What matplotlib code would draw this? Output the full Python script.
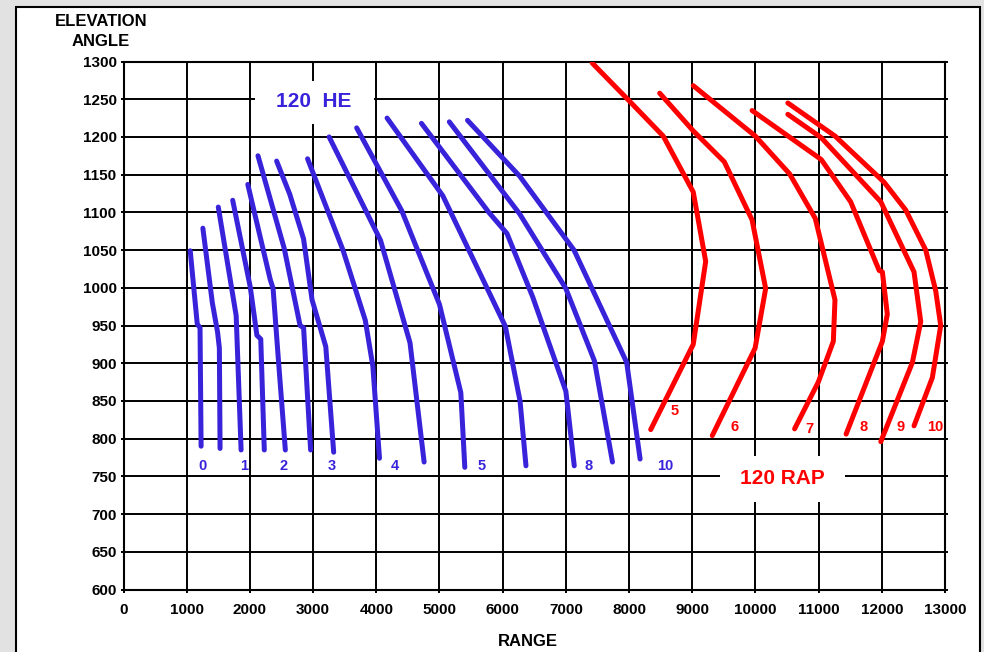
import matplotlib.pyplot as plt
from matplotlib.patches import Rectangle

plt.rcParams['font.family'] = ['Liberation Sans', 'DejaVu Sans']
plt.rcParams['font.weight'] = 'bold'

# 120 HE curves (range, elevation angle)
he_x = [
    [1056, 1167, 1211, 1228],
    [1256, 1406, 1489, 1517, 1528],
    [1500, 1783, 1861],
    [1728, 2006, 2111, 2172, 2228],
    [1967, 2322, 2367, 2449, 2561],
    [2128, 2544, 2794, 2850, 2961],
    [2423, 2631, 2849, 2984, 3201, 3326],
    [2913, 3473, 3826, 3946, 4051],
    [3254, 4067, 4534, 4757],
    [3690, 4404, 5000, 5338, 5401],
    [4171, 5053, 6042, 6275, 6369],
    [4715, 5781, 6068, 6475, 7000, 7133],
    [5156, 6269, 7000, 7453, 7738],
    [5444, 6269, 7129, 7963, 8175],
]
he_y = [
    [1049, 952, 947, 790],
    [1079, 980, 941, 920, 787],
    [1107, 963, 785],
    [1116, 1001, 937, 932, 785],
    [1137, 1011, 999, 907, 785],
    [1175, 1052, 950, 947, 785],
    [1168, 1124, 1065, 984, 922, 782],
    [1171, 1050, 957, 896, 774],
    [1200, 1063, 927, 769],
    [1212, 1102, 978, 861, 762],
    [1225, 1122, 949, 850, 764],
    [1218, 1100, 1072, 988, 863, 764],
    [1220, 1098, 999, 903, 769],
    [1222, 1148, 1050, 901, 773],
]
he_labels = ['0', '1', '2', '3', '4', '5', '8', '10']
he_label_x = [1245, 1912, 2530, 3293, 4300, 5662, 7352, 8569]
he_label_y = [764] * 8

# 120 RAP curves
rap_x = [
    [7417, 7989, 8542, 9016, 9213, 9016, 8343],
    [8485, 9016, 9508, 9947, 10162, 9995, 9317],
    [9016, 10000, 10541, 10947, 11259, 11233, 10995, 10620],
    [9947, 11042, 11507, 11958, 12009, 12087, 12009, 11435],
    [10513, 11042, 11984, 12510, 12616, 12484, 11984],
    [10513, 11262, 12036, 12379, 12695, 12853, 12932, 12800, 12510],
]
rap_y = [
    [1298, 1249, 1201, 1127, 1035, 925, 812],
    [1258, 1208, 1167, 1090, 999, 920, 804],
    [1268, 1201, 1151, 1092, 984, 929, 875, 813],
    [1235, 1170, 1114, 1023, 1021, 965, 929, 806],
    [1230, 1199, 1114, 1021, 955, 901, 796],
    [1245, 1201, 1140, 1103, 1050, 996, 950, 881, 817],
]
rap_labels = ['5', '6', '7', '8', '9', '10']
rap_label_x = [8729, 9665, 10860, 11713, 12300, 12848]
rap_label_y = [837, 816, 813, 815, 815, 815]

blue = '#3823db'
red = '#ff0000'

fig = plt.figure(figsize=(9.84, 6.52), dpi=100, facecolor='#e2e2e2')
# white framed panel
fig.patches.append(Rectangle((16 / 984, -0.05), 964 / 984, 1.05 - 7 / 652,
                             transform=fig.transFigure, facecolor='white',
                             edgecolor='black', linewidth=1.5, zorder=-1))

ax = fig.add_axes([123.5 / 984, 1 - 589.5 / 652, 821.5 / 984, 528 / 652])
ax.set_zorder(1)
ax.set_xlim(0, 13000)
ax.set_ylim(600, 1300)
ax.set_xticks(range(0, 13001, 1000))
ax.set_yticks(range(600, 1301, 50))
ax.set_axisbelow(True)
ax.grid(True, color='black', linewidth=1.4)
for s in ax.spines.values():
    s.set_linewidth(1.5)
ax.tick_params(length=2, width=1.4, labelsize=11, pad=3, right=True)
ax.tick_params(axis='x', pad=8)

for xs, ys in zip(he_x, he_y):
    ax.plot(xs, ys, color=blue, linewidth=3.6, solid_capstyle='round', zorder=3)
for xs, ys in zip(rap_x, rap_y):
    ax.plot(xs, ys, color=red, linewidth=3.6, solid_capstyle='round', zorder=3)

for t, x, y in zip(he_labels, he_label_x, he_label_y):
    ax.text(x, y, t, color=blue, fontsize=10.5, fontweight='bold',
            ha='center', va='center')
for t, x, y in zip(rap_labels, rap_label_x, rap_label_y):
    ax.text(x, y, t, color=red, fontsize=10.5, fontweight='bold',
            ha='center', va='center')

# title boxes hiding the grid
ax.add_patch(Rectangle((2075, 1217), 1892, 57, facecolor='white',
                       edgecolor='none', zorder=2))
ax.text(3013, 1247, '120  HE', color=blue, fontsize=15, fontweight='bold',
        ha='center', va='center', zorder=4)
ax.add_patch(Rectangle((9446, 716), 1969, 61, facecolor='white',
                       edgecolor='none', zorder=2))
ax.text(10427, 747, '120 RAP', color=red, fontsize=15, fontweight='bold',
        ha='center', va='center', zorder=4)

fig.text(101 / 984, 1 - 21 / 652, 'ELEVATION', fontsize=12, fontweight='bold',
         ha='center', va='center')
fig.text(101 / 984, 1 - 42 / 652, 'ANGLE', fontsize=12, fontweight='bold',
         ha='center', va='center')
fig.text(528 / 984, 1 - 642 / 652, 'RANGE', fontsize=12, fontweight='bold',
         ha='center', va='center')

fig.savefig('out.png', dpi=100, facecolor=fig.get_facecolor())
